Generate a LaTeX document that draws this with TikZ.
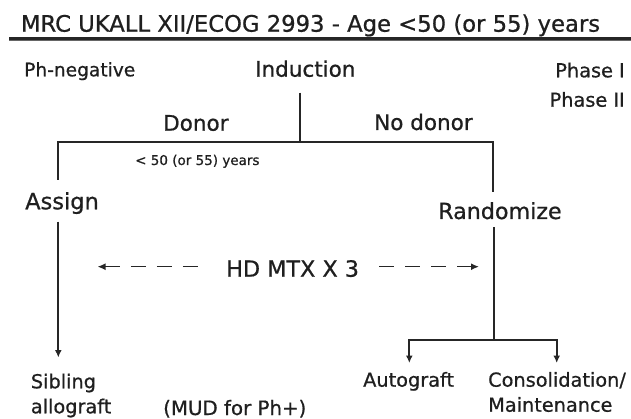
\documentclass[tikz,border=0pt]{standalone}
\usepackage{fontspec}
\setmainfont{DejaVu Sans}[BoldFont={DejaVu Sans}, BoldFeatures={FakeBold=0.7}]
\usetikzlibrary{arrows.meta}
\begin{document}
\begin{tikzpicture}[x=1pt,y=-1pt,
  txt/.style={inner sep=0pt, anchor=base west, text=black!88},
  big/.style={txt, font=\fontsize{21.5}{25}\selectfont\bfseries},
  mid/.style={txt, font=\fontsize{19.3}{25}\selectfont\bfseries},
  ln/.style={line width=1.8pt, draw=black!85},
  arr/.style={ln, -{Latex[length=7.5pt,width=7pt]}},
  dsh/.style={line width=1.5pt, draw=black!85, dash pattern=on 15pt off 11pt, {Latex[length=8pt,width=7pt]}-}]
\useasboundingbox (0,0) rectangle (631,419);
\fill[white] (0,0) rectangle (631,419);

% title and rule
\node[txt, font=\fontsize{22.7}{27}\selectfont\bfseries] (title) at (20.7,31.7) {MRC UKALL XII/ECOG 2993 - Age <50 (or 55) years};
\coordinate (ruleL) at (9,38.6);
\coordinate (ruleR) at (631,38.6);
\draw[line width=2.2pt, draw=black!85] (ruleL) -- (ruleR);
\draw[line width=0.8pt, draw=black!60] ([yshift=-2.3pt]ruleL) -- ([yshift=-2.3pt]ruleR);

% labels
\node[mid, font=\fontsize{18.6}{22}\selectfont\bfseries] (phneg) at (24,76.3) {Ph-negative};
\node[big] (induction) at (255,76.7) {Induction};
\node[mid, anchor=base east] (phase1) at (625,77.3) {Phase I};
\node[mid, anchor=base east] (phase2) at (625,106.7) {Phase II};
\node[big] (donor) at (163,130.7) {Donor};
\node[big] (nodonor) at (374,130) {No donor};
\node[txt, font=\fontsize{13.5}{16}\selectfont\bfseries] (age) at (135,165) {< 50 (or 55) years};
\node[big, font=\fontsize{22.5}{26}\selectfont\bfseries] (assign) at (25,209.3) {Assign};
\node[big, font=\fontsize{22.2}{26}\selectfont\bfseries] (randomize) at (438,219) {Randomize};
\node[big, font=\fontsize{22.3}{26}\selectfont\bfseries] (hdmtx) at (226,276.7) {HD MTX X 3};
\node[mid] (sibling) at (30.7,388.3) {Sibling};
\node[mid] (allograft) at (30.7,413.3) {allograft};
\node[mid, font=\fontsize{19.8}{24}\selectfont\bfseries] (mud) at (163,415) {(MUD for Ph+)};
\node[mid] (autograft) at (363,386.7) {Autograft};
\node[mid] (consol) at (488,386.7) {Consolidation/};
\node[mid] (maint) at (488,411.7) {Maintenance};

% connector coordinates
\coordinate (indbot) at (300,92.7);
\coordinate (split) at (300,141.7);
\coordinate (busL) at (58.3,141.7);
\coordinate (busR) at (493.3,141.7);
\coordinate (assignTop) at (58.3,180);
\coordinate (randTop) at (493.3,191.7);
\coordinate (assignBot) at (58.3,221.7);
\coordinate (sibTop) at (58.3,357.5);
\coordinate (randBot) at (494,227.3);
\coordinate (fork) at (494,340);
\coordinate (forkL) at (409.3,340);
\coordinate (forkR) at (556.7,340);
\coordinate (autoTop) at (409.3,363);
\coordinate (consTop) at (556.7,363);
\coordinate (dl0) at (208.3,266.7);
\coordinate (dl1) at (97.5,266.7);
\coordinate (dr0) at (376,266.7);
\coordinate (dr1) at (479,266.7);

\draw[ln] (indbot) -- (split);
\draw[ln] (assignTop) -- (busL) -- (busR) -- (randTop);
\draw[arr] (assignBot) -- (sibTop);
\draw[ln] (randBot) -- (fork);
\draw[arr] (fork) -- (forkL) -- (autoTop);
\draw[arr] (fork) -- (forkR) -- (consTop);
\draw[dsh] (dl1) -- (dl0);
\draw[dsh] (dr1) -- (dr0);
\end{tikzpicture}
\end{document}
